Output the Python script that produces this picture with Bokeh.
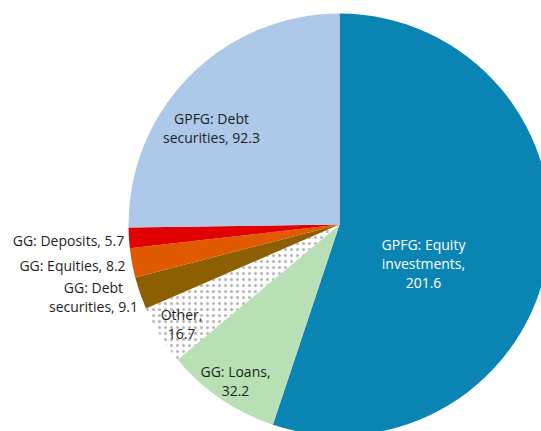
import math
from bokeh.plotting import figure
from bokeh.models import Range1d, ColumnDataSource
from bokeh.core.properties import value
from bokeh.embed import file_html
from bokeh.resources import INLINE

# Data (clockwise from 12 o'clock)
categories = ["GPFG: Equity\ninvestments,", "GG: Loans,", "Other,", "GG: Debt\nsecurities,",
              "GG: Equities,", "GG: Deposits,", "GPFG: Debt\nsecurities,"]
values = [201.6, 32.2, 16.7, 9.1, 8.2, 5.7, 92.3]
colors = ["#0A84B3", "#B8E0B4", "#FFFFFF", "#8C5F00", "#E05A00", "#E00000", "#ADC8E8"]

# label layout (offsets from pie centre, px) and styles
label_dx = [84, -104, -158, -246, -267, -271, -128]
label_dy = [-39, -156, -99, -72, -41, -16, 97]
label_sep = ["\n", "\n", "\n", " ", " ", " ", " "]
label_colors = ["#FFFFFF", "#1E1E1E", "#1E1E1E", "#1E1E1E", "#1E1E1E", "#1E1E1E", "#1E1E1E"]

total = sum(values)
starts, ends = [], []
acc = 0.0
for v in values:
    a0 = math.pi / 2 - 2 * math.pi * acc / total
    acc += v
    a1 = math.pi / 2 - 2 * math.pi * acc / total
    starts.append(a0)
    ends.append(a1)

labels = [c + s + f"{v}" for c, s, v in zip(categories, label_sep, values)]

W, H = 541, 431
cx, cy = 339, 224  # page coords of pie centre
p = figure(width=W, height=H, output_backend="svg", toolbar_location=None,
           x_range=Range1d(-cx, W - cx), y_range=Range1d(cy - H, cy),
           min_border=0)
p.axis.visible = False
p.grid.visible = False
p.outline_line_color = None
p.background_fill_color = "white"

R = 211
src = ColumnDataSource(dict(start=starts, end=ends, color=colors,
                            hatch=["blank", "blank", "dot", "blank", "blank", "blank", "blank"]))
p.wedge(x=0, y=0, radius=R, start_angle="start", end_angle="end", direction="clock",
        fill_color="color", line_color=None, hatch_pattern="hatch", hatch_color="#B4B4B4",
        hatch_scale=6, hatch_weight=1.8, source=src)

lsrc = ColumnDataSource(dict(x=label_dx, y=label_dy, text=labels, color=label_colors))
p.text(x="x", y="y", text="text", source=lsrc, text_color="color",
       text_font=value("Open Sans"), text_font_size="14px", text_align="center",
       text_baseline="middle", text_line_height=1.0)

open("out.html", "w").write(file_html(p, INLINE))
